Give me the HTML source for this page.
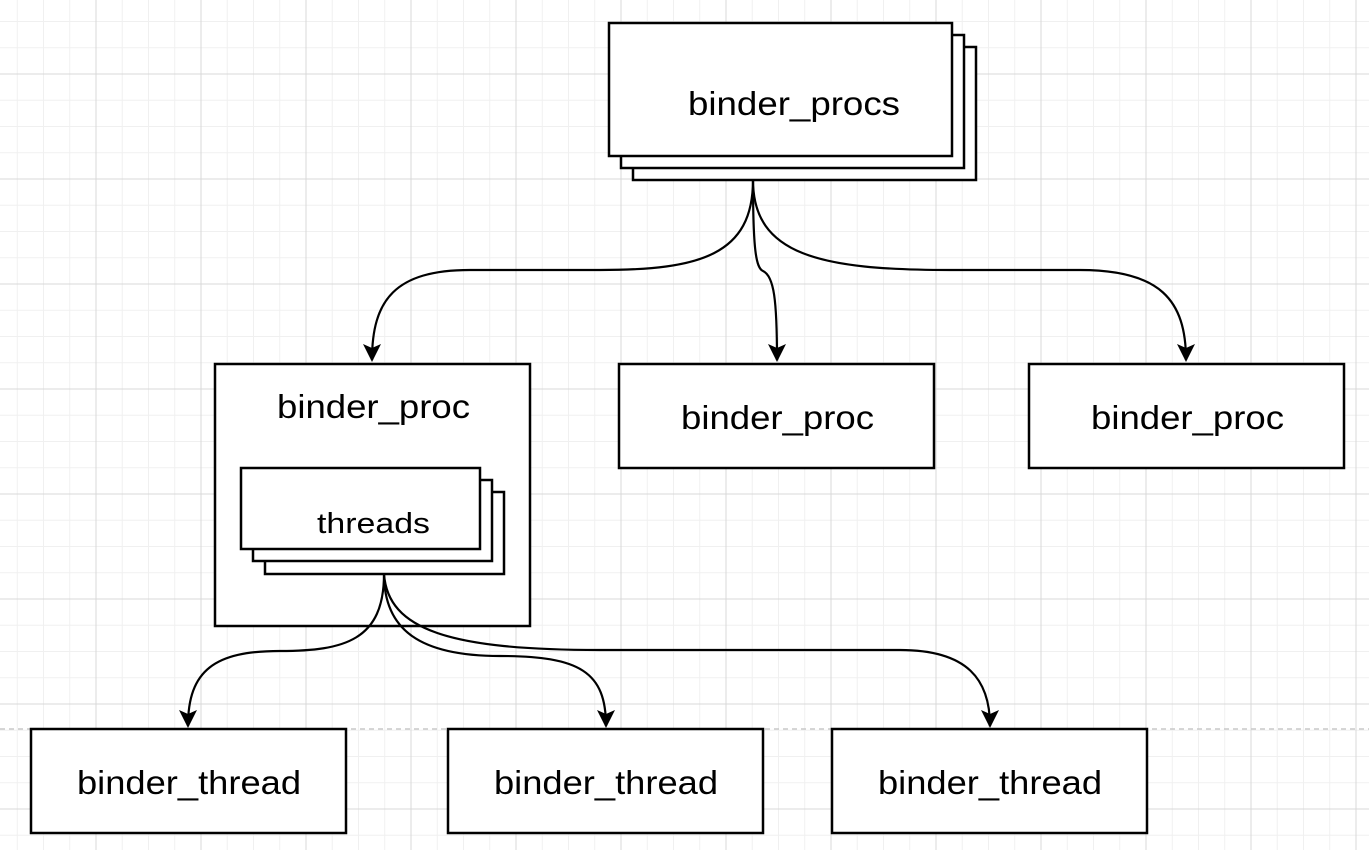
<!DOCTYPE html>
<html><head><style>
html,body{margin:0;padding:0;background:#fff}
svg{display:block}
text{font-family:"Liberation Sans",sans-serif;fill:#000}
</style></head><body>
<svg width="1369" height="850" viewBox="0 0 1369 850" xmlns="http://www.w3.org/2000/svg">
<defs>
<pattern id="minor" x="16.75" y="21" width="26.25" height="26.25" patternUnits="userSpaceOnUse">
<path d="M0.5 0V26.25M0 0.5H26.25" stroke="#f0f0f0" stroke-width="1" fill="none"/>
</pattern>
<pattern id="major" x="95.5" y="73.5" width="105" height="105" patternUnits="userSpaceOnUse">
<path d="M0.5 0V105M0 0.5H105" stroke="#d8d8d8" stroke-width="1" fill="none"/>
</pattern>
<marker id="ar" markerWidth="18" markerHeight="18" refX="16" refY="9" orient="auto" markerUnits="userSpaceOnUse">
<path d="M0 0 L18 9 L0 18 L4 9 Z" fill="#000"/>
</marker>
</defs>
<rect width="1369" height="850" fill="url(#minor)"/>
<rect width="1369" height="850" fill="url(#major)"/>
<line x1="0" y1="729" x2="1369" y2="729" stroke="#c8c8c8" stroke-width="1.5" stroke-dasharray="5,4"/>
<g fill="#fff" stroke="#000" stroke-width="2.5">
<rect x="633" y="47" width="343" height="133"/>
<rect x="621" y="35" width="343" height="133"/>
<rect x="609" y="23" width="343" height="133"/>
<rect x="215" y="364" width="315" height="262"/>
<rect x="265" y="492" width="239" height="82"/>
<rect x="253" y="480" width="239" height="81"/>
<rect x="241" y="468" width="239" height="81"/>
<rect x="619" y="364" width="315" height="104"/>
<rect x="1029" y="364" width="315" height="104"/>
<rect x="31" y="729" width="315" height="104"/>
<rect x="448" y="729" width="315" height="104"/>
<rect x="832" y="729" width="315" height="104"/>
</g>
<g fill="none" stroke="#000" stroke-width="2.2">
<path d="M753 180 C753 255 700 270 600 270 L470 270 C395 270 372 300 372 360" marker-end="url(#ar)"/>
<path d="M753 180 C753 250 756 268 763 271 C774 276 777 300 777 360" marker-end="url(#ar)"/>
<path d="M753 180 C753 255 820 270 950 270 L1080 270 C1160 270 1186 300 1186 360" marker-end="url(#ar)"/>
<path d="M384 574 C384 640 345 651 280 651 C215 651 188 670 188 726" marker-end="url(#ar)"/>
<path d="M384 574 C384 630 420 656 500 656 C580 656 606 672 606 726" marker-end="url(#ar)"/>
<path d="M384 574 C388 630 450 650 600 650 L900 650 C968 650 990 680 990 726" marker-end="url(#ar)"/>
</g>
<g font-size="33" lengthAdjust="spacingAndGlyphs">
<text x="688" y="115" textLength="212" lengthAdjust="spacingAndGlyphs">binder_procs</text>
<text x="277" y="418" textLength="193" lengthAdjust="spacingAndGlyphs">binder_proc</text>
<text x="681" y="429" textLength="193" lengthAdjust="spacingAndGlyphs">binder_proc</text>
<text x="1091" y="429" textLength="193" lengthAdjust="spacingAndGlyphs">binder_proc</text>
<text x="77" y="794" textLength="224" lengthAdjust="spacingAndGlyphs">binder_thread</text>
<text x="494" y="794" textLength="224" lengthAdjust="spacingAndGlyphs">binder_thread</text>
<text x="878" y="794" textLength="224" lengthAdjust="spacingAndGlyphs">binder_thread</text>
</g>
<text x="317" y="533" font-size="29" textLength="113" lengthAdjust="spacingAndGlyphs">threads</text>
</svg>
</body></html>
